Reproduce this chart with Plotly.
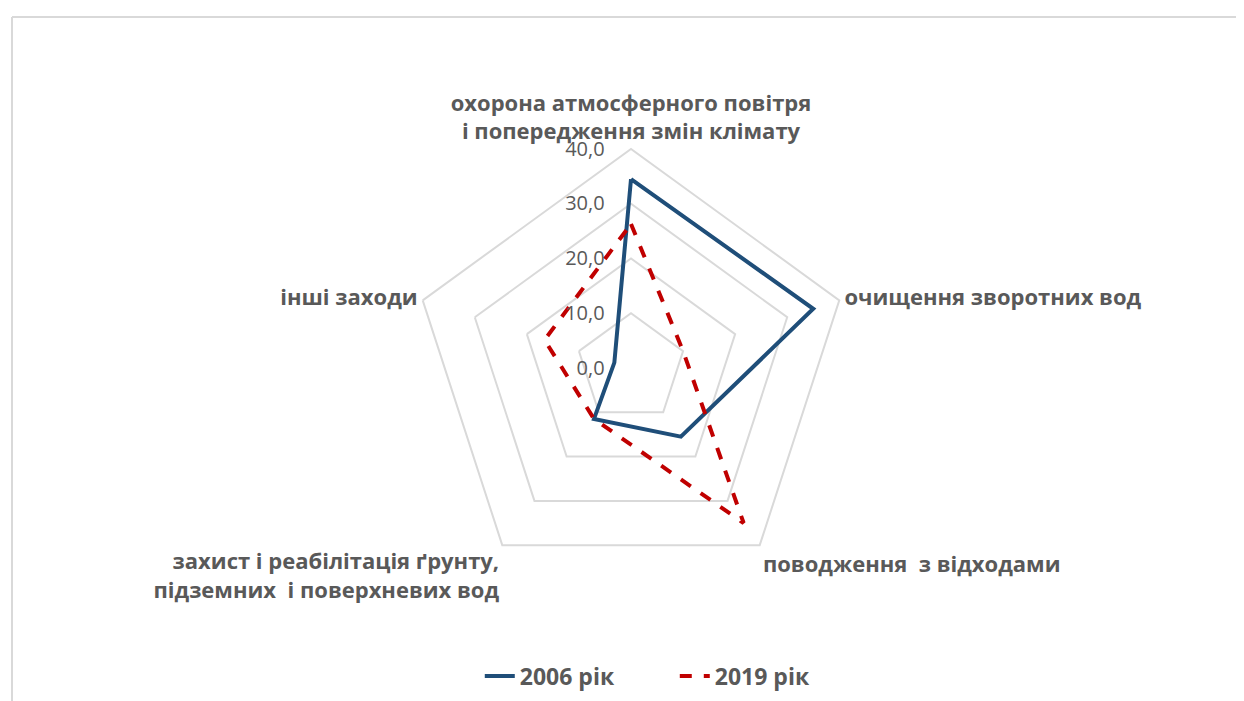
import plotly.graph_objects as go

categories = [
    "охорона атмосферного повітря<br>і попередження змін клімату",
    "очищення зворотних вод",
    "поводження  з відходами",
    "захист і реабілітація ґрунту,<br>підземних  і поверхневих вод",
    "інші заходи",
]
values_2006 = [34.5, 35.0, 15.5, 11.5, 3.2]
values_2019 = [26.3, 10.0, 35.0, 11.5, 16.6]
series_names = ["2006 рік", "2019 рік"]
radial_ticks = [0, 10, 20, 30, 40]
radial_ticktext = [f"{v:.1f}".replace(".", ",") for v in radial_ticks]

GRAY = "#595959"
GRID = "#D9D9D9"
FONT = "Open Sans"
PAD = '<span style="color:rgba(255,255,255,0)">00</span>'

fig = go.Figure()
fig.add_trace(go.Scatterpolar(
    r=values_2006 + values_2006[:1], theta=categories + categories[:1],
    mode="lines", name=series_names[0],
    line=dict(color="#1F4E79", width=4),
))
fig.add_trace(go.Scatterpolar(
    r=values_2019 + values_2019[:1], theta=categories + categories[:1],
    mode="lines", name=series_names[1],
    line=dict(color="#C00000", width=4, dash="dash"),
))

cx, cy, R = 623, 360, 219

fig.update_layout(
    width=1244, height=701,
    paper_bgcolor="white", plot_bgcolor="white",
    margin=dict(l=0, r=0, t=0, b=0),
    separators=", ",
    font=dict(family=FONT, color=GRAY),
    polar=dict(
        domain=dict(x=[(cx - R) / 1244, (cx + R) / 1244],
                    y=[(701 - cy - R) / 701, (701 - cy + R) / 701]),
        bgcolor="white",
        gridshape="linear",
        angularaxis=dict(
            direction="clockwise", rotation=90,
            showgrid=False, showline=True, linecolor=GRID, linewidth=2,
            ticks="", tickfont=dict(family=FONT, size=22, color=GRAY, weight="bold"),
        ),
        radialaxis=dict(
            range=[0, 40], tickvals=radial_ticks,
            ticktext=[t + PAD for t in radial_ticktext],
            angle=90, tickangle=90, side="counterclockwise",
            showline=False, ticks="", gridcolor=GRID, gridwidth=2,
            tickfont=dict(family=FONT, size=20, color=GRAY),
        ),
    ),
    legend=dict(
        orientation="h", x=0.536, xanchor="center", y=(701 - 668) / 701, yanchor="middle",
        font=dict(family=FONT, size=23, color=GRAY, weight="bold"),
        entrywidth=150,
    ),
    shapes=[
        dict(type="line", xref="paper", yref="paper", x0=4 / 1244, x1=1.0,
             y0=(701 - 9) / 701, y1=(701 - 9) / 701, line=dict(color=GRID, width=2)),
        dict(type="line", xref="paper", yref="paper", x0=4 / 1244, x1=4 / 1244,
             y0=0, y1=(701 - 9) / 701, line=dict(color=GRID, width=2)),
    ],
)

fig.write_html("out.html")
